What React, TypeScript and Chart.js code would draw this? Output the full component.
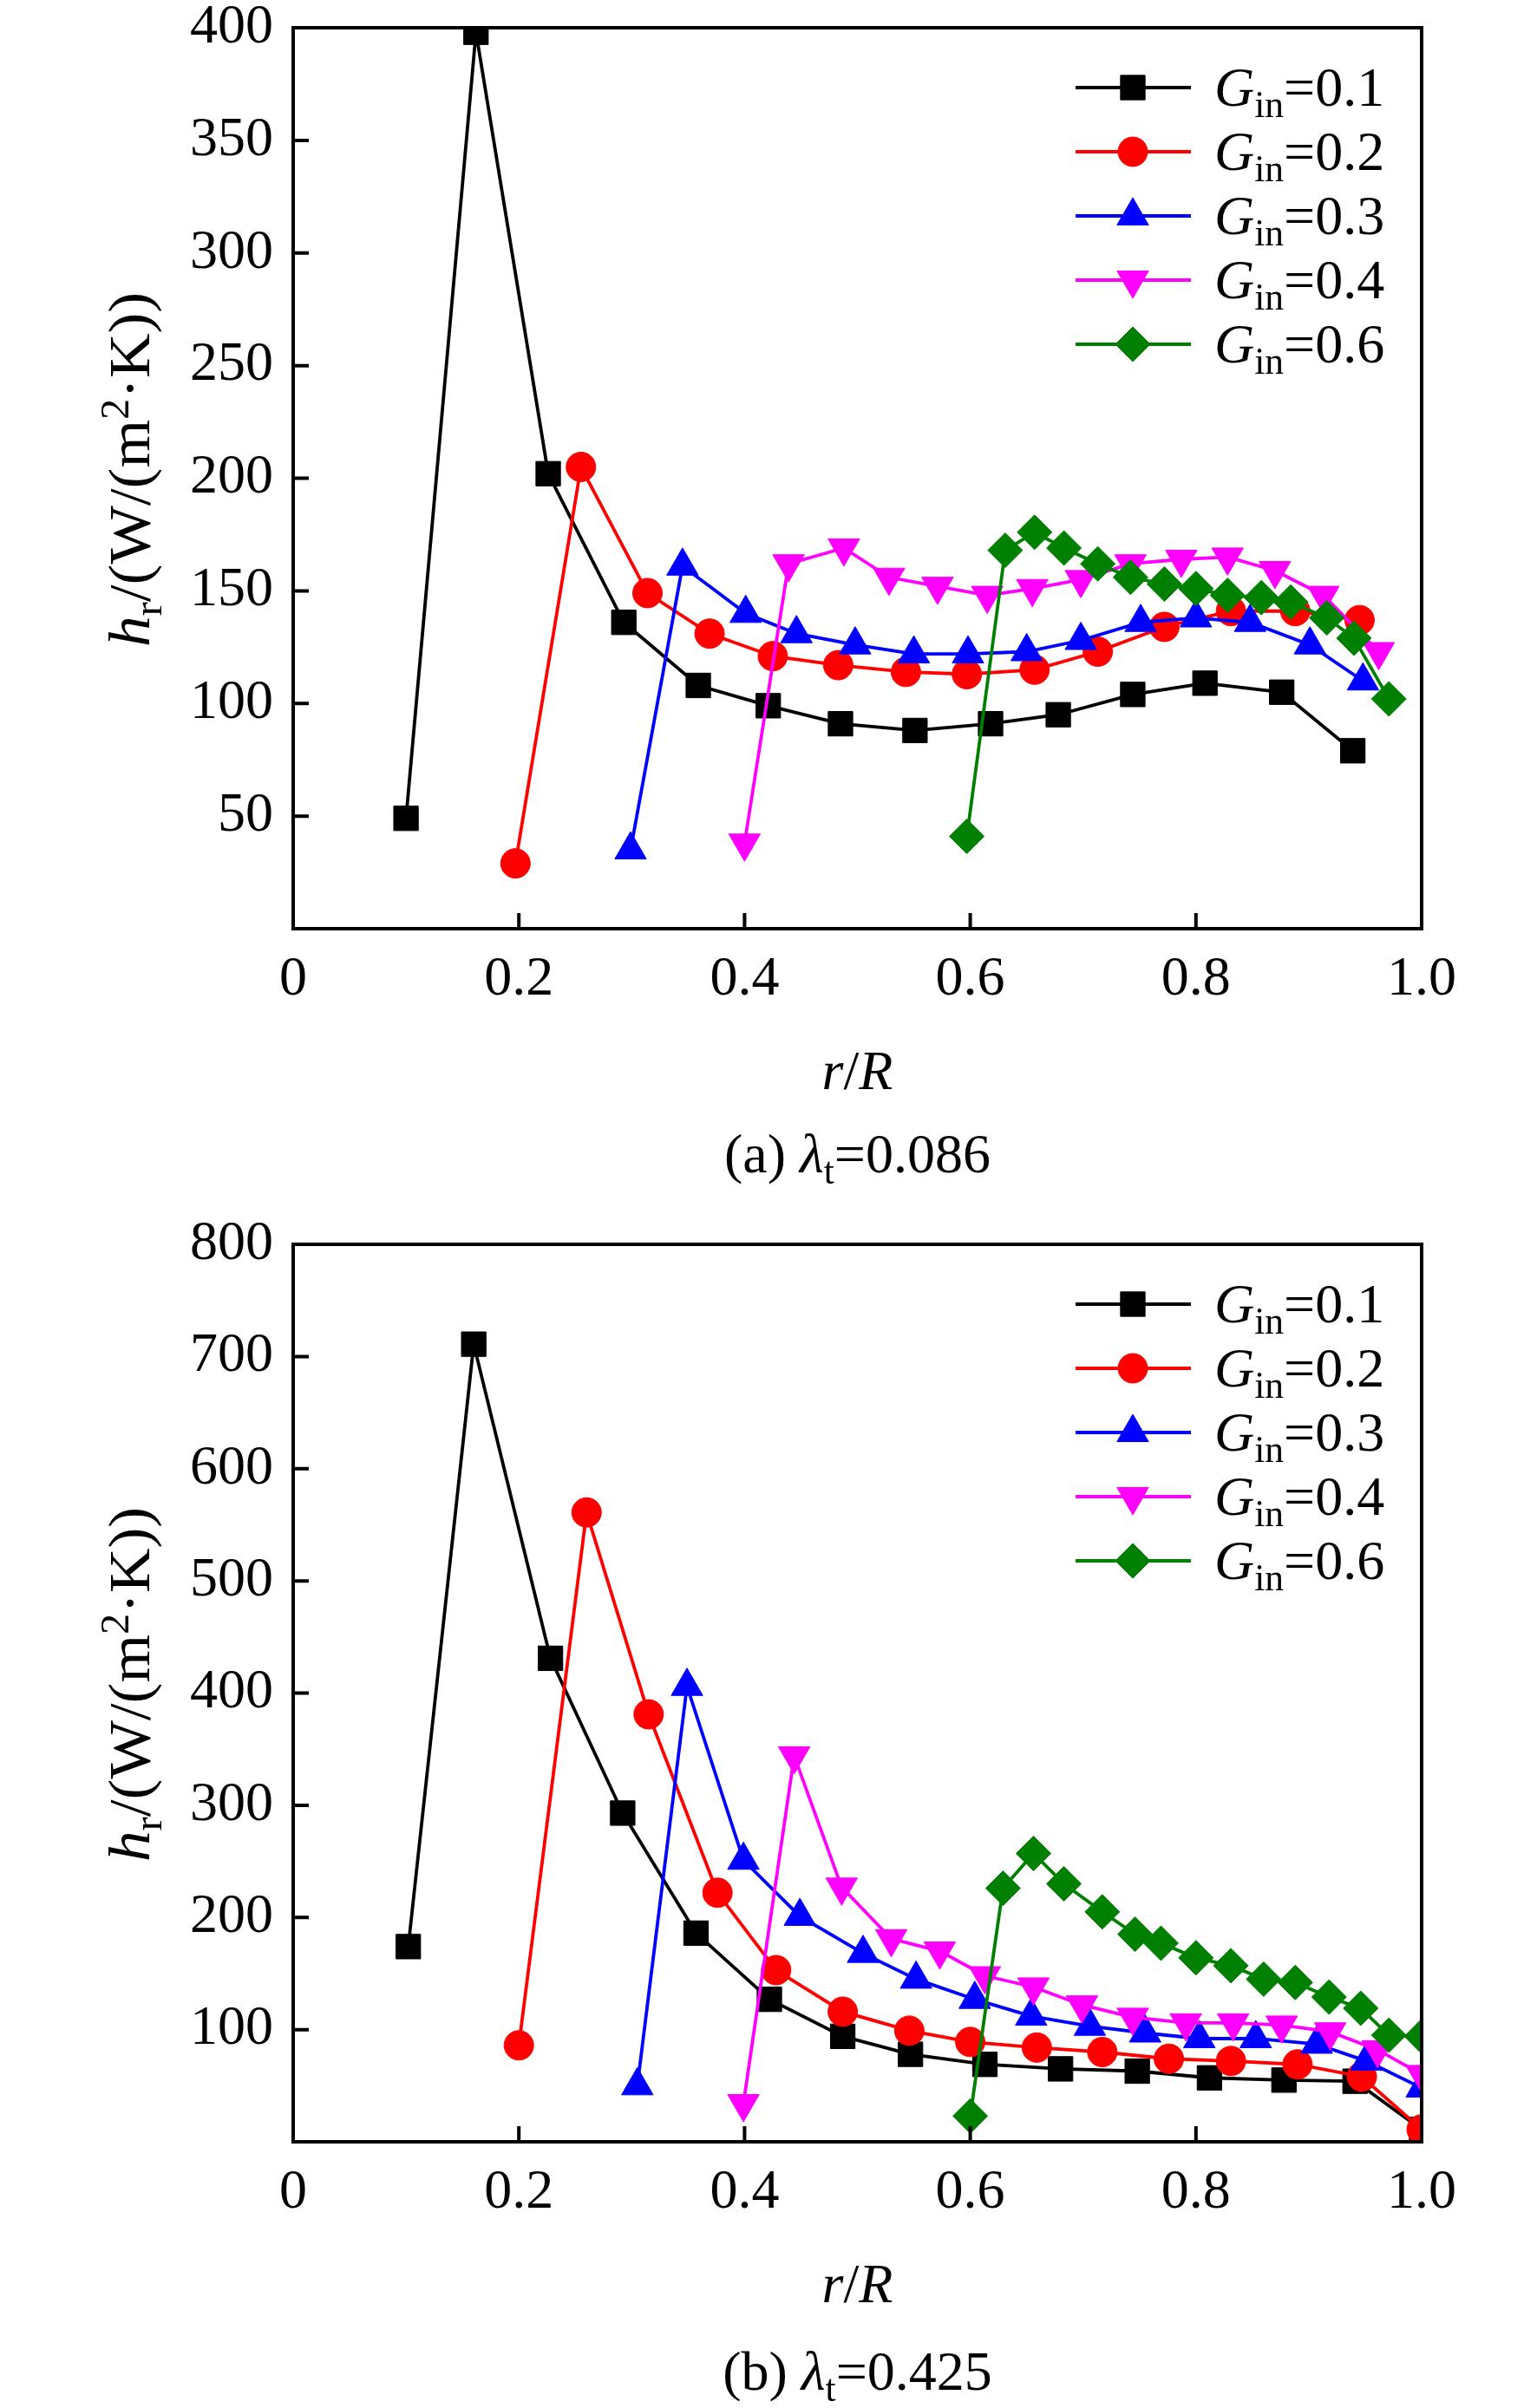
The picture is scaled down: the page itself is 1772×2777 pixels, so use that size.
import { useEffect, useRef } from "react"
import { Chart, registerables } from "chart.js"
import { drawPoint } from "chart.js/helpers"

Chart.register(...registerables)

const FONT = "'Liberation Serif', 'Times New Roman', serif"
const SIZE = 64

// G_in values of the five series
const gIn = ["0.1", "0.2", "0.3", "0.4", "0.6"]
const colors = ["#000000", "#ff0000", "#0000ff", "#ff00ff", "#008000"]
const markers = [
  { style: "rect", rot: 0, r: 20 },
  { style: "circle", rot: 0, r: 17 },
  { style: "triangle", rot: 0, r: 21 },
  { style: "triangle", rot: 180, r: 21 },
  { style: "rectRot", rot: 0, r: 20 },
]

// (a) lambda_t = 0.086
const rA1 = [0.1, 0.162, 0.226, 0.293, 0.359, 0.421, 0.485, 0.551, 0.618, 0.678, 0.744, 0.808, 0.876, 0.939]
const hA1 = [49, 398, 202, 136, 108, 99, 91, 88, 91, 95, 104, 109, 105, 79]
const rA2 = [0.197, 0.255, 0.314, 0.369, 0.425, 0.483, 0.543, 0.597, 0.657, 0.713, 0.772, 0.831, 0.888, 0.945]
const hA2 = [29, 205, 149, 131, 121, 117, 114, 113, 115, 123, 134, 141, 141, 137]
const rA3 = [0.299, 0.345, 0.401, 0.446, 0.498, 0.55, 0.598, 0.65, 0.698, 0.751, 0.8, 0.848, 0.901, 0.948]
const hA3 = [35, 161, 140, 131, 126, 122, 122, 123, 128, 136, 138, 136, 126, 110]
const rA4 = [0.4, 0.439, 0.488, 0.528, 0.571, 0.615, 0.655, 0.698, 0.742, 0.787, 0.828, 0.87, 0.913, 0.962]
const hA4 = [38, 162, 169, 156, 152, 148, 151, 155, 162, 164, 165, 159, 148, 123]
const rA5 = [0.597, 0.631, 0.657, 0.683, 0.713, 0.742, 0.772, 0.8, 0.828, 0.858, 0.884, 0.916, 0.94, 0.971]
const hA5 = [41, 168, 176, 169, 162, 156, 153, 151, 148, 147, 145, 138, 129, 102]

// (b) lambda_t = 0.425
const rB1 = [0.102, 0.16, 0.228, 0.292, 0.357, 0.422, 0.487, 0.547, 0.613, 0.68, 0.748, 0.812, 0.878, 0.941, 1.0]
const hB1 = [174, 711, 431, 293, 186, 127, 94, 78, 69, 65, 63, 57, 55, 54, 11]
const rB2 = [0.2, 0.26, 0.315, 0.376, 0.428, 0.487, 0.546, 0.6, 0.659, 0.717, 0.776, 0.831, 0.89, 0.947, 1.0]
const hB2 = [86, 561, 381, 222, 153, 116, 99, 89, 84, 80, 74, 72, 69, 58, 11]
const rB3 = [0.305, 0.349, 0.399, 0.449, 0.505, 0.552, 0.604, 0.654, 0.706, 0.755, 0.803, 0.853, 0.907, 0.951, 1.0]
const hB3 = [50, 406, 251, 201, 168, 145, 127, 112, 103, 97, 92, 92, 87, 72, 48]
const rB4 = [0.399, 0.444, 0.486, 0.53, 0.573, 0.613, 0.656, 0.699, 0.744, 0.791, 0.833, 0.876, 0.919, 0.961, 1.0]
const hB4 = [34, 344, 227, 181, 170, 148, 138, 122, 111, 106, 106, 104, 98, 82, 60]
const rB5 = [0.6, 0.629, 0.656, 0.683, 0.717, 0.746, 0.769, 0.8, 0.831, 0.86, 0.888, 0.918, 0.946, 0.971, 1.0]
const hB5 = [23, 226, 257, 230, 205, 185, 177, 164, 157, 145, 142, 129, 119, 95, 94]

const xTicks = [0, 0.2, 0.4, 0.6, 0.8, 1.0]

type Seg = { t: string; i?: boolean; s?: "sub" | "sup" }

// draws text with italic / sub / sup pieces; stretch widens it along the text direction
function drawRich(
  ctx: CanvasRenderingContext2D,
  segs: Seg[],
  x: number,
  y: number,
  align: "center" | "left",
  vertical = false,
  size = SIZE,
  stretch = 1
) {
  ctx.save()
  ctx.translate(x, y)
  if (vertical) ctx.rotate(-Math.PI / 2)
  ctx.scale(stretch, 1)
  ctx.textBaseline = "alphabetic"
  ctx.textAlign = "left"
  ctx.fillStyle = "#000"
  const fontOf = (s: Seg) => `${s.i ? "italic " : ""}${s.s ? size * 0.68 : size}px ${FONT}`
  let total = 0
  const widths = segs.map((s) => {
    ctx.font = fontOf(s)
    const w = ctx.measureText(s.t).width
    total += w
    return w
  })
  let cx = align === "center" ? -total / 2 : 0
  segs.forEach((s, k) => {
    ctx.font = fontOf(s)
    const dy = s.s === "sub" ? size * 0.2 : s.s === "sup" ? -size * 0.36 : 0
    ctx.fillText(s.t, cx, dy)
    cx += widths[k]
  })
  ctx.restore()
}

const yTitle: Seg[] = [{ t: "h", i: true }, { t: "r", s: "sub" }, { t: "/(W/(m" }, { t: "2", s: "sup" }, { t: "·K))" }]
const xTitle: Seg[] = [{ t: "r", i: true }, { t: "/" }, { t: "R", i: true }]

type PanelProps = {
  rs: number[][]
  hs: number[][]
  yMax: number
  yStep: number
  label: string
  lambda: string
  height: number
  padTop: number
  plotBottom: number
  captionGap: number
}

function Panel({ rs, hs, yMax, yStep, label, lambda, height, padTop, plotBottom, captionGap }: PanelProps) {
  const canvasRef = useRef<HTMLCanvasElement>(null)

  useEffect(() => {
    if (!canvasRef.current) return

    const decor = {
      id: "decor",
      afterDatasetsDraw(chart: any) {
        const { ctx, chartArea } = chart
        const { left, right, top, bottom } = chartArea
        const xs = chart.scales.x
        const ys = chart.scales.y
        ctx.save()
        ctx.strokeStyle = "#000"
        ctx.lineWidth = 4
        ctx.strokeRect(left, top, right - left, bottom - top)
        ctx.beginPath()
        xTicks.slice(1, -1).forEach((v) => {
          const px = xs.getPixelForValue(v)
          ctx.moveTo(px, bottom)
          ctx.lineTo(px, bottom - 18)
        })
        for (let v = yStep; v < yMax; v += yStep) {
          const py = ys.getPixelForValue(v)
          ctx.moveTo(left, py)
          ctx.lineTo(left + 18, py)
        }
        ctx.stroke()
        ctx.restore()
      },
      afterDraw(chart: any) {
        const { ctx, chartArea } = chart
        const { left, right, top, bottom } = chartArea
        drawRich(ctx, yTitle, 172, (top + bottom) / 2 - 10, "center", true, 68, 1.05)
        drawRich(ctx, xTitle, (left + right) / 2, bottom + 185, "center")
        drawRich(
          ctx,
          [{ t: `(${label}) ` }, { t: "λ", i: true }, { t: "t", s: "sub" }, { t: `=${lambda}` }],
          (left + right) / 2,
          bottom + captionGap,
          "center"
        )
        // legend
        gIn.forEach((g, i) => {
          const y = top + 69 + i * 74
          ctx.save()
          ctx.strokeStyle = colors[i]
          ctx.lineWidth = 3.8
          ctx.beginPath()
          ctx.moveTo(right - 399, y)
          ctx.lineTo(right - 266, y)
          ctx.stroke()
          ctx.fillStyle = colors[i]
          ctx.lineWidth = 1
          drawPoint(ctx, { pointStyle: markers[i].style as any, rotation: markers[i].rot, radius: markers[i].r, borderWidth: 1 }, right - 333, y)
          ctx.restore()
          drawRich(ctx, [{ t: "G", i: true }, { t: "in", s: "sub" }, { t: `=${g}` }], right - 239, y + 21, "left")
        })
      },
    }

    const chart = new Chart(canvasRef.current, {
      type: "line",
      data: {
        datasets: rs.map((r, i) => ({
          label: `Gin=${gIn[i]}`,
          data: r.map((x, k) => ({ x, y: hs[i][k] })),
          borderColor: colors[i],
          backgroundColor: colors[i],
          borderWidth: 3.8,
          pointStyle: markers[i].style as any,
          pointRotation: markers[i].rot,
          pointRadius: markers[i].r,
          pointBorderWidth: 1,
          pointBackgroundColor: colors[i],
          pointBorderColor: colors[i],
          tension: 0,
          fill: false,
          order: 4 - i,
        })),
      },
      options: {
        responsive: false,
        animation: false,
        events: [],
        layout: { padding: { top: padTop, right: 133, bottom: 0, left: 0 } },
        plugins: { legend: { display: false }, tooltip: { enabled: false } },
        scales: {
          x: {
            type: "linear",
            min: 0,
            max: 1,
            grid: { display: false, drawTicks: false },
            border: { display: false },
            ticks: {
              stepSize: 0.2,
              padding: 21,
              maxRotation: 0,
              autoSkip: false,
              color: "#000",
              font: { family: FONT, size: SIZE, lineHeight: 1.2 },
              callback: (v: any) => (Number(v) === 0 ? "0" : Number(v).toFixed(1)),
            },
            afterFit: (s: any) => {
              s.height = height - plotBottom
              s.paddingLeft = 0
              s.paddingRight = 0
            },
          },
          y: {
            type: "linear",
            min: 0,
            max: yMax,
            grid: { display: false, drawTicks: false },
            border: { display: false },
            ticks: {
              stepSize: yStep,
              padding: 23,
              color: "#000",
              font: { family: FONT, size: SIZE, lineHeight: 1.2 },
              callback: (v: any) => (Number(v) === 0 ? "" : String(v)),
            },
            afterFit: (s: any) => {
              s.width = 338
              s.paddingTop = 0
              s.paddingBottom = 0
            },
          },
        },
      },
      plugins: [decor],
    })

    return () => {
      chart.destroy()
    }
  }, [])

  return <canvas ref={canvasRef} width={1772} height={height} style={{ display: "block" }}></canvas>
}

export default function App() {
  useEffect(() => {
    document.body.style.margin = "0"
  }, [])

  return (
    <div style={{ width: 1772, background: "#fff" }}>
      <Panel
        rs={[rA1, rA2, rA3, rA4, rA5]}
        hs={[hA1, hA2, hA3, hA4, hA5]}
        yMax={400}
        yStep={50}
        label="a"
        lambda="0.086"
        height={1385}
        padTop={32}
        plotBottom={1071}
        captionGap={281}
      />
      <Panel
        rs={[rB1, rB2, rB3, rB4, rB5]}
        hs={[hB1, hB2, hB3, hB4, hB5]}
        yMax={800}
        yStep={100}
        label="b"
        lambda="0.425"
        height={1392}
        padTop={50}
        plotBottom={1085}
        captionGap={286}
      />
    </div>
  )
}
